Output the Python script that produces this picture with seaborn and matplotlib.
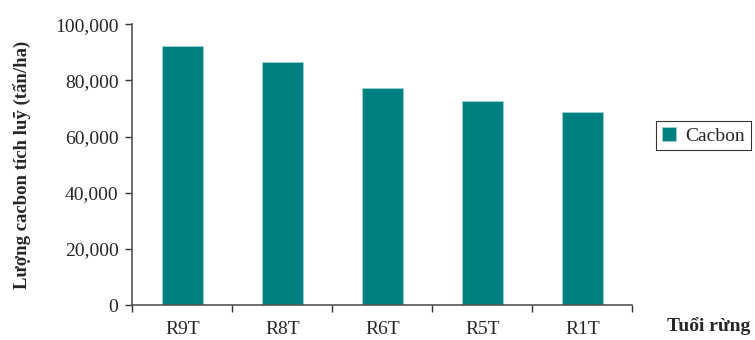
import matplotlib
matplotlib.use("Agg")
import matplotlib.pyplot as plt
import matplotlib.ticker as mticker
import seaborn as sns
import pandas as pd
import numpy as np

categories = ["R9T", "R8T", "R6T", "R5T", "R1T"]
values = [92300, 86400, 77200, 72700, 68700]
series_name = "Cacbon"
y_ticks = [0, 20000, 40000, 60000, 80000, 100000]

df = pd.DataFrame({"age": categories, "val": values, "series": series_name})

sns.set_theme(style="white")
plt.rcParams["font.family"] = ["Liberation Serif", "DejaVu Serif"]

fig = plt.figure(figsize=(7.55, 3.4), dpi=100)
ax = fig.add_axes([0.1752, 0.102, 0.6623, 0.827])

sns.barplot(data=df, x="age", y="val", hue="series", palette=["#008080"],
            width=0.41, ax=ax, saturation=1, edgecolor="#9fd4d0", linewidth=0.6)

ax.set_xlim(-0.5, len(categories) - 0.5)
ax.set_ylim(0, 100000)
ax.set_yticks(y_ticks)
ax.yaxis.set_major_formatter(mticker.FuncFormatter(lambda v, p: f"{int(v):,}"))
ax.tick_params(axis="y", direction="out", length=5, width=1, color="#333333",
               labelsize=14, left=True, pad=5)
# category boundary ticks on x
ax.set_xticks(np.arange(len(categories)))
ax.set_xticklabels(categories)
ax.tick_params(axis="x", which="major", length=0, labelsize=14, pad=11)
ax.set_xticks(np.arange(-0.5, len(categories)), minor=True)
ax.tick_params(axis="x", which="minor", direction="out", length=5, width=1,
               color="#333333", bottom=True)

for s in ["top", "right"]:
    ax.spines[s].set_visible(False)
for s in ["left", "bottom"]:
    ax.spines[s].set_color("#555555")
    ax.spines[s].set_linewidth(1.2)

ax.set_xlabel("")
ax.set_ylabel("Lượng cacbon tích luỹ (tấn/ha)", fontsize=13.5, fontweight="bold", labelpad=17)
ax.text(1.07, -0.075, "Tuổi rừng", transform=ax.transAxes, fontsize=14,
        fontweight="bold", ha="left", va="center")

leg = ax.legend(loc="upper left", bbox_to_anchor=(1.048, 0.655), frameon=True,
                fancybox=False, edgecolor="black", fontsize=14, handlelength=0.7,
                handleheight=0.7, handletextpad=0.5, borderpad=0.3,
                borderaxespad=0)
leg.get_frame().set_linewidth(0.8)

fig.savefig("out.png", dpi=100)
